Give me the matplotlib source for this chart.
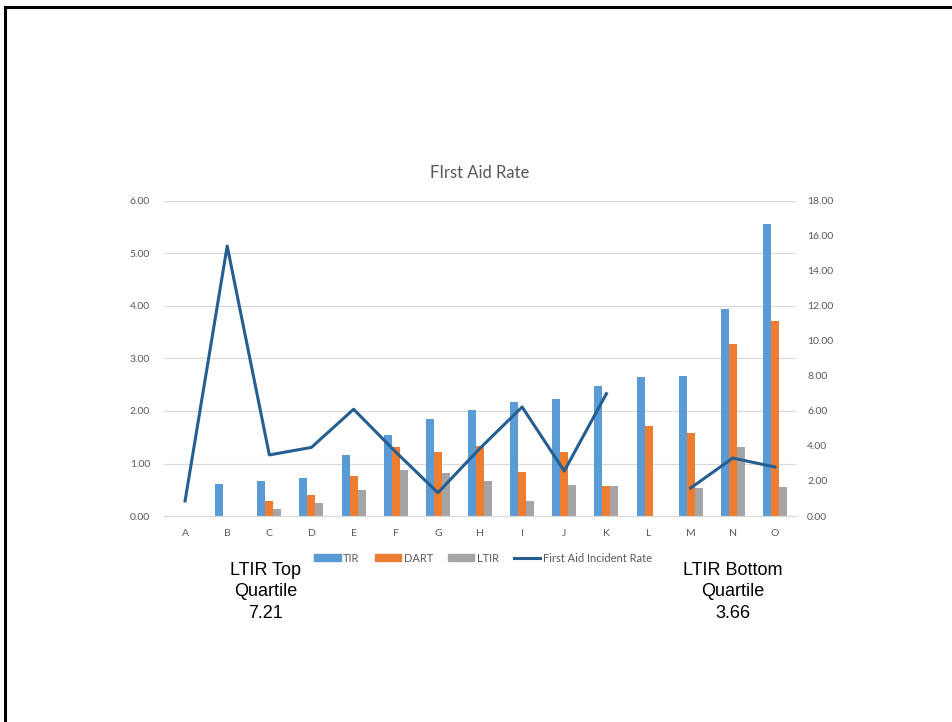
import numpy as np
import matplotlib
matplotlib.use("Agg")
import matplotlib.pyplot as plt
from matplotlib.lines import Line2D
from matplotlib.patches import Patch

categories = ["A", "B", "C", "D", "E", "F", "G", "H", "I", "J", "K", "L", "M", "N", "O"]
tir = [0.0, 0.61, 0.67, 0.72, 1.16, 1.54, 1.84, 2.01, 2.18, 2.23, 2.47, 2.65, 2.66, 3.94, 5.57]
dart = [0.0, 0.0, 0.29, 0.40, 0.76, 1.31, 1.22, 1.33, 0.84, 1.21, 0.58, 1.71, 1.59, 3.28, 3.71]
ltir = [0.0, 0.0, 0.13, 0.25, 0.50, 0.88, 0.82, 0.67, 0.28, 0.59, 0.58, 0.0, 0.53, 1.31, 0.55]
first_aid = [0.86, 15.43, 3.49, 3.92, 6.10, 3.66, 1.33, 3.87, 6.23, 2.57, 6.99, np.nan, 1.60, 3.31, 2.80]

left_ticks = [0, 1, 2, 3, 4, 5, 6]
right_ticks = [0, 2, 4, 6, 8, 10, 12, 14, 16, 18]

c_tir = "#5B9BD5"
c_dart = "#ED7D31"
c_ltir = "#A5A5A5"
c_line = "#255E91"
c_text = "#595959"
chart_font = "Lato"

fig = plt.figure(figsize=(9.53, 7.22), dpi=100)
ax = fig.add_axes([164/953, 1-516/722, (796-164)/953, (516-201)/722])
ax2 = ax.twinx()

x = np.arange(len(categories))
w = 0.19
ax.bar(x - w, tir, w, color=c_tir, label="TIR", zorder=2)
ax.bar(x, dart, w, color=c_dart, label="DART", zorder=2)
ax.bar(x + w, ltir, w, color=c_ltir, label="LTIR", zorder=2)
ax2.plot(x, first_aid, color=c_line, lw=2.2, label="First Aid Incident Rate", zorder=3)

ax.set_xlim(-0.5, 14.5)
ax.set_ylim(0, 6)
ax2.set_ylim(0, 18)
ax.set_yticks(left_ticks)
ax.set_yticklabels([f"{v:.2f}" for v in left_ticks])
ax2.set_yticks(right_ticks)
ax2.set_yticklabels([f"{v:.2f}" for v in right_ticks])
ax.set_xticks(x)
ax.set_xticklabels(categories)

ax.grid(axis="y", color="#D9D9D9", lw=0.8, zorder=0)
ax.set_axisbelow(True)
for a in (ax, ax2):
    for s in ["top", "right", "left"]:
        a.spines[s].set_visible(False)
    a.spines["bottom"].set_color("#D9D9D9")
    a.tick_params(length=0, colors=c_text, labelsize=7.5)
    for lab in a.get_xticklabels() + a.get_yticklabels():
        lab.set_fontfamily(chart_font)
ax.tick_params(axis="y", pad=10)
ax2.tick_params(axis="y", pad=8)
ax.tick_params(axis="x", pad=9)

fig.text(480/953, 1-173/722, "FIrst Aid Rate", ha="center", va="center",
         fontsize=12, color=c_text, family=chart_font)

handles = [Patch(color=c_tir), Patch(color=c_dart), Patch(color=c_ltir),
           Line2D([0], [0], color=c_line, lw=2.2)]
labels = ["TIR", "DART", "LTIR", "First Aid Incident Rate"]
fig.legend(handles, labels, loc="center", bbox_to_anchor=(483/953, 1-558/722),
           ncol=4, frameon=False, prop={"family": chart_font, "size": 8},
           labelcolor=c_text, handlelength=2.35, handleheight=0.55,
           handletextpad=0.25, columnspacing=1.35, borderpad=0)

fig.text(266/953, 1-592/722, "LTIR Top\nQuartile\n7.21", ha="center", va="center",
         fontsize=13, family="Liberation Sans", linespacing=1.36)
fig.text(733/953, 1-592/722, "LTIR Bottom\nQuartile\n3.66", ha="center", va="center",
         fontsize=13, family="Liberation Sans", linespacing=1.36)

fig.add_artist(Line2D([5/953, 1], [1-7/722, 1-7/722], color="black", lw=2.2, transform=fig.transFigure))
fig.add_artist(Line2D([5/953, 5/953], [0, 1-7/722], color="black", lw=2.2, transform=fig.transFigure))

fig.savefig("out.png", dpi=100)
